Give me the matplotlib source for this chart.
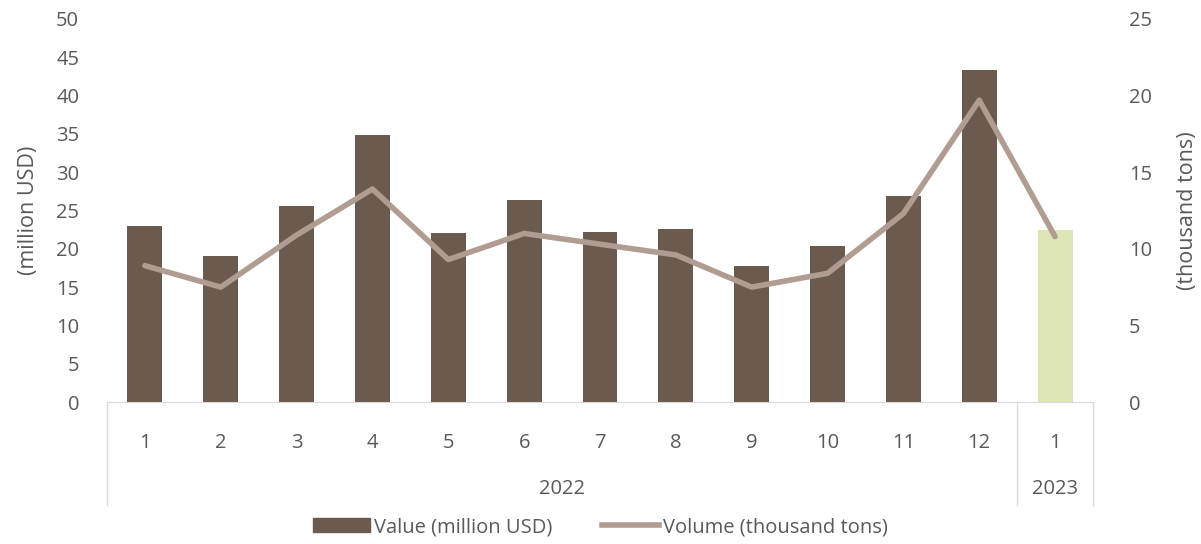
import matplotlib.pyplot as plt
from matplotlib.patches import Patch
from matplotlib.lines import Line2D

# -------------------------
# Datos
# -------------------------
months = ['1', '2', '3', '4', '5', '6', '7', '8', '9', '10', '11', '12', '1']
years = ['2022', '2023']
year_sizes = [12, 1]
value_musd = [23.0, 19.1, 25.6, 34.9, 22.0, 26.4, 22.2, 22.6, 17.8, 20.4, 26.9, 43.3, 22.4]
volume_kt = [8.9, 7.5, 10.9, 13.9, 9.3, 11.0, 10.3, 9.6, 7.5, 8.4, 12.3, 19.7, 10.8]

bar_color = '#6B5A4E'
hl_color = '#DDE4B6'
line_color = '#B09C90'
text_color = '#595959'
edge_gray = '#D9D9D9'

plt.rcParams['font.family'] = ['Open Sans', 'DejaVu Sans']

fig = plt.figure(figsize=(12.01, 5.44), dpi=100)
ax = fig.add_axes([107 / 1201, 1 - 402 / 544, (1093 - 107) / 1201, (402 - 19) / 544])
ax2 = ax.twinx()

x = list(range(len(months)))
colors = [bar_color] * year_sizes[0] + [hl_color] * year_sizes[1]
ax.bar(x, value_musd, width=0.46, color=colors, zorder=2)
ax2.plot(x, volume_kt, color=line_color, lw=4, solid_capstyle='round', zorder=3)

ax.set_xlim(-0.5, len(months) - 0.5)
ax.set_ylim(0, 50)
ax.set_yticks(range(0, 51, 5))
ax2.set_ylim(0, 25)
ax2.set_yticks(range(0, 26, 5))

for a in (ax, ax2):
    for s in ['top', 'left', 'right']:
        a.spines[s].set_visible(False)
    a.spines['bottom'].set_color(edge_gray)
    a.tick_params(axis='y', length=0, labelsize=14.5, labelcolor=text_color)
ax2.spines['bottom'].set_visible(False)
ax.tick_params(axis='y', pad=20)
ax2.tick_params(axis='y', pad=26)

ax.set_xticks(x)
ax.set_xticklabels(months)
ax.tick_params(axis='x', length=0, labelsize=14.5, labelcolor=text_color, pad=22)

ax.set_ylabel('(million USD)', fontsize=15.5, color=text_color, labelpad=12)
ax2.set_ylabel('(thousand tons)', fontsize=15.5, color=text_color, labelpad=18)

# separadores y etiquetas de año
trans = ax.get_xaxis_transform()
depth = -(505 - 402) / 383
edges = [-0.5]
for n in year_sizes:
    edges.append(edges[-1] + n)
for e in edges:
    ax.plot([e, e], [0, depth], transform=trans, color=edge_gray, lw=1, clip_on=False)
for i, yr in enumerate(years):
    mid = (edges[i] + edges[i + 1]) / 2
    ax.text(mid, -(489 - 402) / 383, yr, transform=trans, ha='center', va='center',
            fontsize=14.5, color=text_color)

handles = [Patch(color=bar_color), Line2D([0], [0], color=line_color, lw=4)]
fig.legend(handles, ['Value (million USD)', 'Volume (thousand tons)'], loc='center',
           bbox_to_anchor=(0.5, 1 - 527 / 544), ncol=2, frameon=False, fontsize=14.5,
           labelcolor=text_color, handlelength=2.8, handletextpad=0.2, columnspacing=2.5)

fig.savefig('out.png', dpi=100)
